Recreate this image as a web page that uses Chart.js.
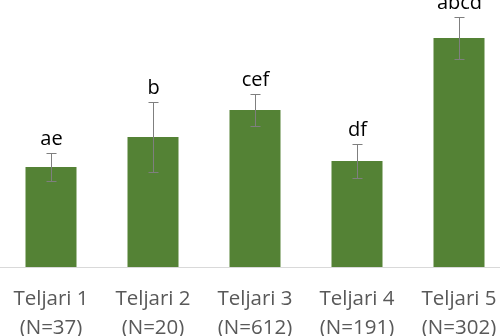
<!DOCTYPE html>
<html>
<head>
<meta charset="utf-8">
<script src="https://cdn.jsdelivr.net/npm/chart.js@4"></script>
<style>
  html, body { margin: 0; padding: 0; overflow: hidden; background: #fff; }
  #wrap { width: 510px; height: 336px; position: relative; }
</style>
</head>
<body>
<div id="wrap"><canvas id="chart"></canvas></div>
<script>
// chart data
const categories = [['Teljari 1', '(N=37)'], ['Teljari 2', '(N=20)'], ['Teljari 3', '(N=612)'], ['Teljari 4', '(N=191)'], ['Teljari 5', '(N=302)']];
const means = [3.75, 4.87, 5.88, 3.97, 8.58];
const errors = [0.52, 1.31, 0.60, 0.62, 0.79];
const letters = ['ae', 'b', 'cef', 'df', 'abcd'];

// error bars + significance letters
const errorBarPlugin = {
    id: 'errorBars',
    afterDatasetsDraw(chart) {
        const ctx = chart.ctx;
        const meta = chart.getDatasetMeta(0);
        const y = chart.scales.y;
        ctx.save();
        meta.data.forEach((bar, i) => {
            const x = Math.round(bar.x) + 0.5;
            const top = Math.round(y.getPixelForValue(means[i] + errors[i])) + 0.5;
            const bottom = Math.round(y.getPixelForValue(means[i] - errors[i])) + 0.5;
            ctx.strokeStyle = '#7f7f7f';
            ctx.lineWidth = 1;
            ctx.beginPath();
            ctx.moveTo(x, top);
            ctx.lineTo(x, bottom);
            ctx.moveTo(x - 5, top);
            ctx.lineTo(x + 5, top);
            ctx.moveTo(x - 5, bottom);
            ctx.lineTo(x + 5, bottom);
            ctx.stroke();

            ctx.fillStyle = '#000';
            ctx.font = '20px "Open Sans"';
            ctx.textAlign = 'center';
            ctx.textBaseline = 'alphabetic';
            ctx.fillText(letters[i], x, top - 9);
        });
        ctx.restore();
    }
};

const ctx = document.getElementById('chart').getContext('2d');
const chart = new Chart(ctx, {
    type: 'bar',
    data: {
        labels: categories,
        datasets: [{
            data: means,
            backgroundColor: '#548235',
            borderWidth: 0,
            categoryPercentage: 1,
            barPercentage: 0.5
        }]
    },
    options: {
        responsive: true,
        maintainAspectRatio: false,
        animation: false,
        layout: { padding: 0 },
        plugins: {
            legend: { display: false },
            tooltip: { enabled: false }
        },
        scales: {
            x: {
                grid: { display: false, drawTicks: false },
                border: { display: true, color: '#d9d9d9', width: 1 },
                ticks: {
                    color: '#595959',
                    font: { family: 'Open Sans', size: 20.5, lineHeight: 1.4 },
                    padding: 18,
                    maxRotation: 0,
                    autoSkip: false
                },
                afterFit(scale) {
                    scale.height = 69;
                    // no side padding: plot runs edge to edge
                    scale.paddingLeft = 0;
                    scale.paddingRight = 0;
                }
            },
            y: {
                display: false,
                min: 0,
                max: 10
            }
        }
    },
    plugins: [errorBarPlugin]
});
</script>
</body>
</html>
